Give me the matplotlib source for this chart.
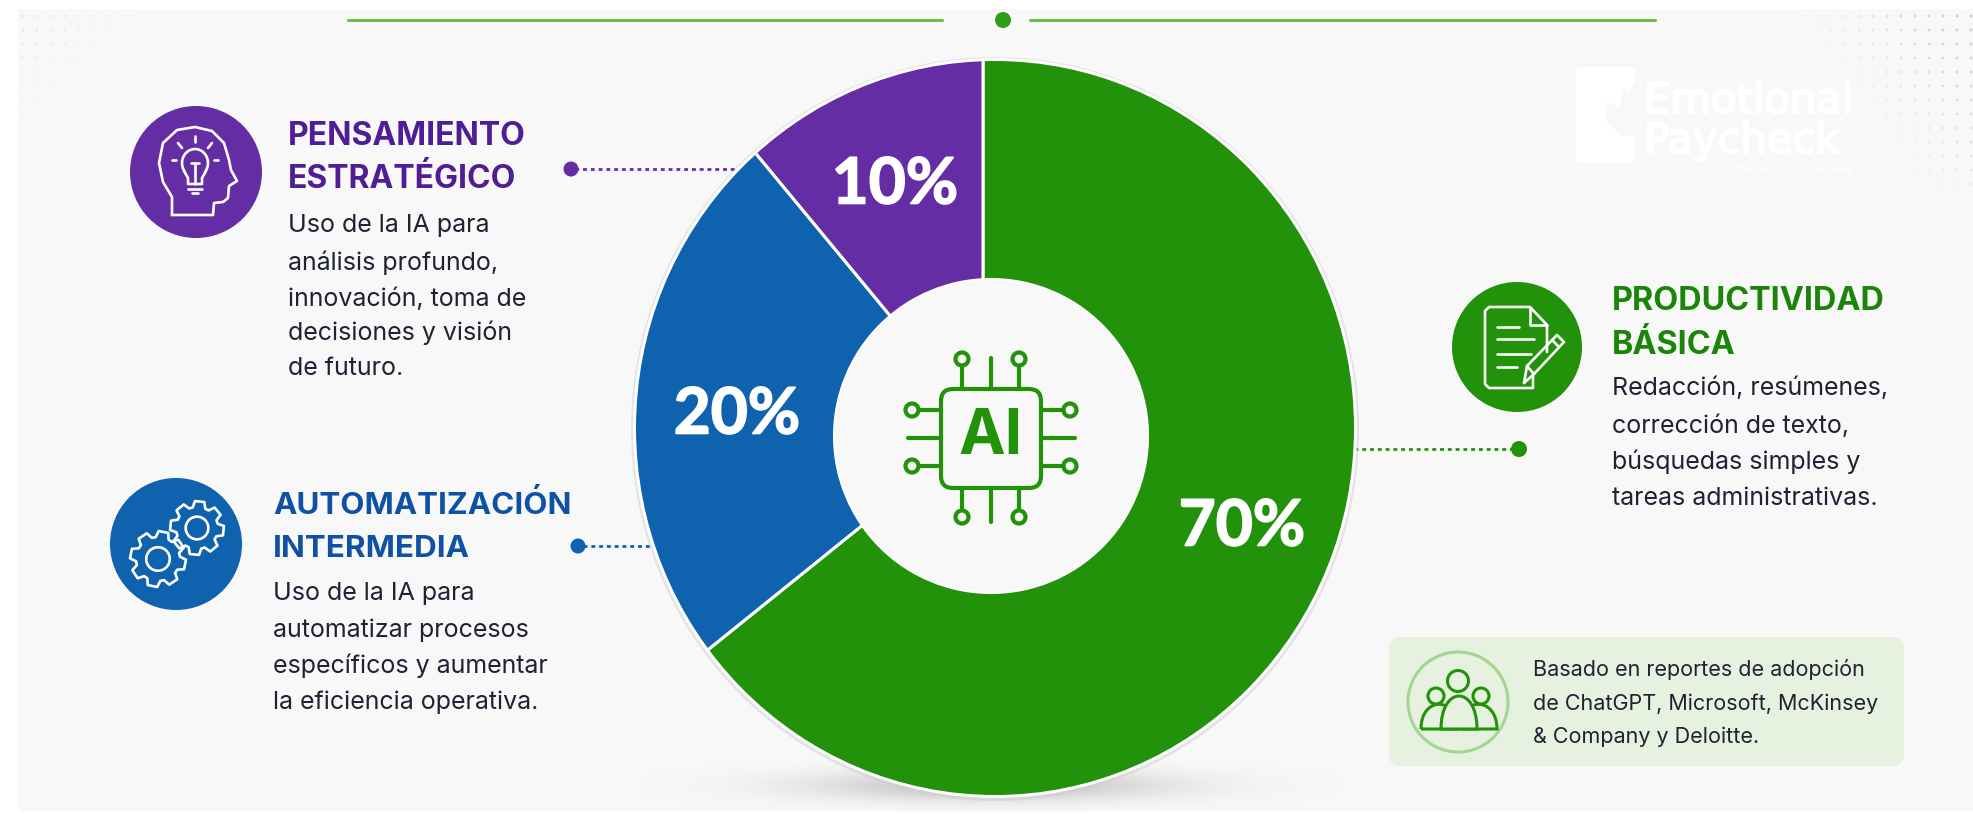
import numpy as np
import matplotlib
matplotlib.use('Agg')
import matplotlib.pyplot as plt
import matplotlib.patheffects as pe
from matplotlib.patches import Circle, Ellipse, FancyBboxPatch, Polygon, Rectangle
from matplotlib.path import Path
from matplotlib.patches import PathPatch
from matplotlib.transforms import Affine2D

W, H = 1973, 814

# drawn sweep of the slices (the printed labels differ)
slice_shares = [64.2, 24.8, 11.0]
slice_labels = ['70%', '20%', '10%']
slice_colors = ['#21920A', '#0F62AE', '#652DA3']

purple_title = ['PENSAMIENTO', 'ESTRATÉGICO']
purple_body = ['Uso de la IA para', 'análisis profundo,', 'innovación, toma de', 'decisiones y visión', 'de futuro.']
blue_title = ['AUTOMATIZACIÓN', 'INTERMEDIA']
blue_body = ['Uso de la IA para', 'automatizar procesos', 'específicos y aumentar', 'la eficiencia operativa.']
green_title = ['PRODUCTIVIDAD', 'BÁSICA']
green_body = ['Redacción, resúmenes,', 'corrección de texto,', 'búsquedas simples y', 'tareas administrativas.']
note_lines = ['Basado en reportes de adopción', 'de ChatGPT, Microsoft, McKinsey', '& Company y Deloitte.']

FONT = 'Inter'
BG = '#F8F8F8'
BODY = '#1E2233'

fig = plt.figure(figsize=(W / 100, H / 100), dpi=100, facecolor='white')
ax = fig.add_axes([0, 0, 1, 1])


def line(xs, ys, color='white', lw=1.9, **kw):
    ax.plot(xs, ys, color=color, lw=lw, solid_capstyle='round', solid_joinstyle='round', **kw)


def ring(x, y, r, color='white', lw=1.9, face='none', z=5):
    ax.add_patch(Circle((x, y), r, fc=face, ec=color, lw=lw, zorder=z))


def text_block(x, ys, lines, color, size, weight='normal'):
    for y, s in zip(ys, lines):
        ax.text(x, y, s, color=color, fontsize=size, fontweight=weight, family=FONT, ha='left', va='center_baseline', zorder=6)


def gear(cx, cy, r_out, r_in, teeth=8, rot=0.0):
    pts = []
    step = 2 * np.pi / teeth
    for i in range(teeth):
        a = rot + i * step
        for da, r in [(-0.30, r_in), (-0.17, r_out), (0.17, r_out), (0.30, r_in)]:
            pts.append((cx + r * np.cos(a + da * step * 1.3), cy + r * np.sin(a + da * step * 1.3)))
    ax.add_patch(Polygon(pts, closed=True, fc='none', ec='white', lw=1.9, joinstyle='round', zorder=5))
    ring(cx, cy, r_out * 0.42)


def arch(x0, x1, top, bottom, color, lw=2.2):
    path = Path([(x0, bottom), (x0, top), (x1, top), (x1, bottom), (x0, bottom)],
                [Path.MOVETO, Path.CURVE4, Path.CURVE4, Path.CURVE4, Path.LINETO])
    ax.add_patch(PathPatch(path, fc='#E6F2DF', ec=color, lw=lw, zorder=5))


# background panel, corner dots
ax.add_patch(Rectangle((18, 9), W - 18, H - 12, fc=BG, ec='none', zorder=0))
for gx in np.arange(1803, W, 14):
    for gy in np.arange(16, 190, 14):
        a = np.clip((gx - 1790) / 170 - (gy - 16) / 230, 0, 1) * 0.45
        if a > 0.02:
            ax.add_patch(Circle((gx, gy), 1.4, fc='#6DB858', ec='none', alpha=a, zorder=1))
for gx in np.arange(23, 150, 14):
    for gy in np.arange(16, 125, 14):
        a = np.clip(1 - (gx - 23) / 125 - (gy - 16) / 110, 0, 1) * 0.16
        if a > 0.01:
            ax.add_patch(Circle((gx, gy), 1.4, fc='#778877', ec='none', alpha=a, zorder=1))

# watermark
thick = [pe.withStroke(linewidth=1.5, foreground='white')]
ax.add_patch(FancyBboxPatch((1576, 67), 59, 96, boxstyle='round,pad=0,rounding_size=5', fc='white', ec='none', zorder=1))
ax.add_patch(Polygon([(1637, 80), (1628, 92), (1622, 88), (1620, 108), (1607, 102), (1606, 116), (1604, 118), (1622, 136), (1637, 134)],
                     closed=True, fc=BG, ec='none', zorder=1))
ax.text(1644, 101, 'Emotional', color='white', fontsize=30, family='DejaVu Sans', ha='left', va='center', zorder=1, path_effects=thick)
ax.text(1644, 141, 'Paycheck', color='white', fontsize=30, family='DejaVu Sans', ha='left', va='center', zorder=1, path_effects=thick)
ax.text(1730, 168, 'Institute Of Canada', color='white', fontsize=9, family='DejaVu Sans', ha='left', va='center', zorder=1)

# top rule
line([348, 942], [20, 20], color='#6ABF4B', lw=2.2, zorder=2)
line([1030, 1655], [20, 20], color='#6ABF4B', lw=2.2, zorder=2)
ax.add_patch(Circle((1003, 20), 8, fc='#2F9E16', ec='none', zorder=3))

# soft shadow under the donut
sx, sy = np.meshgrid(np.arange(640, 1340), np.arange(730, 814))
soft = np.exp(-((sx - 990) / 175.0) ** 2 - ((sy - 785) / 15.0) ** 2) * 0.34
shadow = np.zeros(soft.shape + (4,))
shadow[..., :3] = 0.35
shadow[..., 3] = soft
ax.imshow(shadow, extent=(640, 1340, 814, 730), aspect='auto', zorder=1, interpolation='bilinear')
ax.add_patch(Ellipse((995, 429), 728, 744, fc='#CFCFCF', ec='none', alpha=0.5, zorder=1.4))
ax.add_patch(Ellipse((995, 428), 724, 740, fc='white', ec='none', zorder=1.5))

# the slices meet left of the disc centre, so a larger pie is cut to the disc outline
wedges, _ = ax.pie(slice_shares, colors=slice_colors, startangle=-90, counterclock=True,
                   center=(983, 428), radius=420, wedgeprops=dict(edgecolor='white', linewidth=2.2))
disc = Affine2D().scale(359, 367).translate(995, 428) + ax.transData
for w in wedges:
    w.set_zorder(2)
    w.set_clip_on(True)
    w.set_clip_path(Path.unit_circle(), disc)

ax.add_patch(Circle((991, 436), 157, fc=BG, ec='white', lw=1.5, zorder=3))

thick_pct = [pe.withStroke(linewidth=1.2, foreground='white')]
for s, (px, py) in zip(slice_labels, [(1242, 527), (737, 415), (895, 185)]):
    ax.text(px, py, s, color='white', fontsize=46, fontweight='bold', family='Lato', ha='center', va='center', zorder=6, path_effects=thick_pct)

# chip icon
CHIP = '#21920A'
ax.add_patch(FancyBboxPatch((941, 389), 100, 99, boxstyle='round,pad=0,rounding_size=12', fc='none', ec=CHIP, lw=3, zorder=5))
ax.text(991, 438, 'AI', color=CHIP, fontsize=45, fontweight='bold', family=FONT, ha='center', va='center', zorder=6)
for px in [962, 991, 1019]:
    line([px, px], [387, 358 if px == 991 else 366], color=CHIP, lw=3, zorder=5)
    line([px, px], [490, 522 if px == 991 else 511], color=CHIP, lw=3, zorder=5)
for py in [410, 438, 466]:
    line([939, 908 if py == 438 else 918], [py, py], color=CHIP, lw=3, zorder=5)
    line([1043, 1075 if py == 438 else 1065], [py, py], color=CHIP, lw=3, zorder=5)
for px in [962, 1019]:
    ring(px, 359, 6.5, color=CHIP, lw=3, face=BG)
    ring(px, 517, 6.5, color=CHIP, lw=3, face=BG)
for py in [410, 466]:
    ring(912, py, 6.5, color=CHIP, lw=3, face=BG)
    ring(1070, py, 6.5, color=CHIP, lw=3, face=BG)

# connectors
line([742, 571], [169, 169], color=slice_colors[2], lw=2, linestyle=(0, (1.4, 1.4)), zorder=1.2)
ax.add_patch(Circle((571, 169), 7.5, fc=slice_colors[2], ec='none', zorder=3))
line([657, 578], [546, 546], color=slice_colors[1], lw=2, linestyle=(0, (1.4, 1.4)), zorder=1.2)
ax.add_patch(Circle((578, 546), 7.5, fc=slice_colors[1], ec='none', zorder=3))
line([1354, 1519], [449, 449], color=slice_colors[0], lw=2, linestyle=(0, (1.4, 1.4)), zorder=1.2)
ax.add_patch(Circle((1519, 449), 8, fc=slice_colors[0], ec='none', zorder=3))

# icon discs
ax.add_patch(Circle((196, 172), 66, fc=slice_colors[2], ec='none', zorder=4))
ax.add_patch(Circle((176, 544), 66, fc=slice_colors[1], ec='none', zorder=4))
ax.add_patch(Circle((1517, 347), 65, fc=slice_colors[0], ec='none', zorder=4))

# head with bulb
head = [(172, 215), (172, 197), (163, 182), (159, 163), (163, 143), (177, 130), (195, 127), (212, 131), (224, 143),
        (229, 160), (231, 170), (237, 181), (229, 186), (228, 198), (223, 202), (214, 203), (213, 215), (172, 215)]
line([p[0] for p in head], [p[1] for p in head], zorder=5)
bt = np.radians(np.arange(-215, 36, 10))
line(195 + 13 * np.cos(bt), 163 + 14 * np.sin(bt), zorder=5)
line([184, 188, 188, 202, 202, 206], [171, 178, 184, 184, 178, 171], zorder=5)
line([188, 202], [189, 189], zorder=5)
line([192, 198], [193, 193], zorder=5)
line([195, 195], [184, 163], zorder=5)
line([191, 199], [163, 163], zorder=5)
line([195, 195], [136, 142], zorder=5)
line([178, 182], [143, 148], zorder=5)
line([212, 208], [143, 148], zorder=5)
line([172, 176], [160, 160], zorder=5)
line([214, 218], [160, 160], zorder=5)

# gears
gear(158, 559, 28, 22, rot=0.2)
gear(197, 528, 27, 21, rot=0.1)

# document with pencil
doc = [(1533, 375), (1533, 388), (1489, 388), (1485, 384), (1485, 311), (1489, 307), (1530, 307), (1547, 325), (1547, 352)]
line([p[0] for p in doc], [p[1] for p in doc], zorder=5)
line([1530, 1530, 1547], [307, 325, 325], zorder=5)
for py, x1 in [(327, 1519), (339, 1534), (354, 1531), (367, 1517)]:
    line([1497, x1], [py, py], zorder=5)
pencil = [(1524, 383), (1527, 366), (1557, 335), (1564, 342), (1534, 374), (1524, 383)]
line([p[0] for p in pencil], [p[1] for p in pencil], zorder=5)
line([1527, 1534], [366, 374], zorder=5)
line([1552, 1559], [340, 347], zorder=5)

# text blocks
text_block(288, [133, 176], purple_title, '#4F1D96', 23, 'bold')
text_block(288, [223, 260, 297, 330, 366], purple_body, BODY, 18)
text_block(273, [502, 546], blue_title, '#0F52A5', 22.6, 'bold')
text_block(273, [591, 628, 663, 700], blue_body, BODY, 18)
text_block(1612, [298, 342], green_title, '#1B8509', 23.3, 'bold')
text_block(1612, [386, 424, 459, 496], green_body, BODY, 18)

# source note
ax.add_patch(FancyBboxPatch((1389, 637), 515, 129, boxstyle='round,pad=0,rounding_size=12', fc='#E6F2DF', ec='none', zorder=4))
ring(1458, 702, 50, color='#A5D592', lw=2.2, z=5)
arch(1421, 1457, 696, 729, '#21920A')
arch(1460, 1497, 696, 729, '#21920A')
arch(1441, 1477, 685, 729, '#21920A')
ring(1436, 696, 8, color='#21920A', lw=2.2, face='#E6F2DF')
ring(1481, 696, 8, color='#21920A', lw=2.2, face='#E6F2DF')
ring(1458, 681, 10.5, color='#21920A', lw=2.2, face='#E6F2DF')
text_block(1533, [667, 702, 735], note_lines, BODY, 15.5)

ax.set_xlim(0, W)
ax.set_ylim(H, 0)
ax.set_aspect('auto')
ax.axis('off')
fig.savefig('out.png', dpi=100)
